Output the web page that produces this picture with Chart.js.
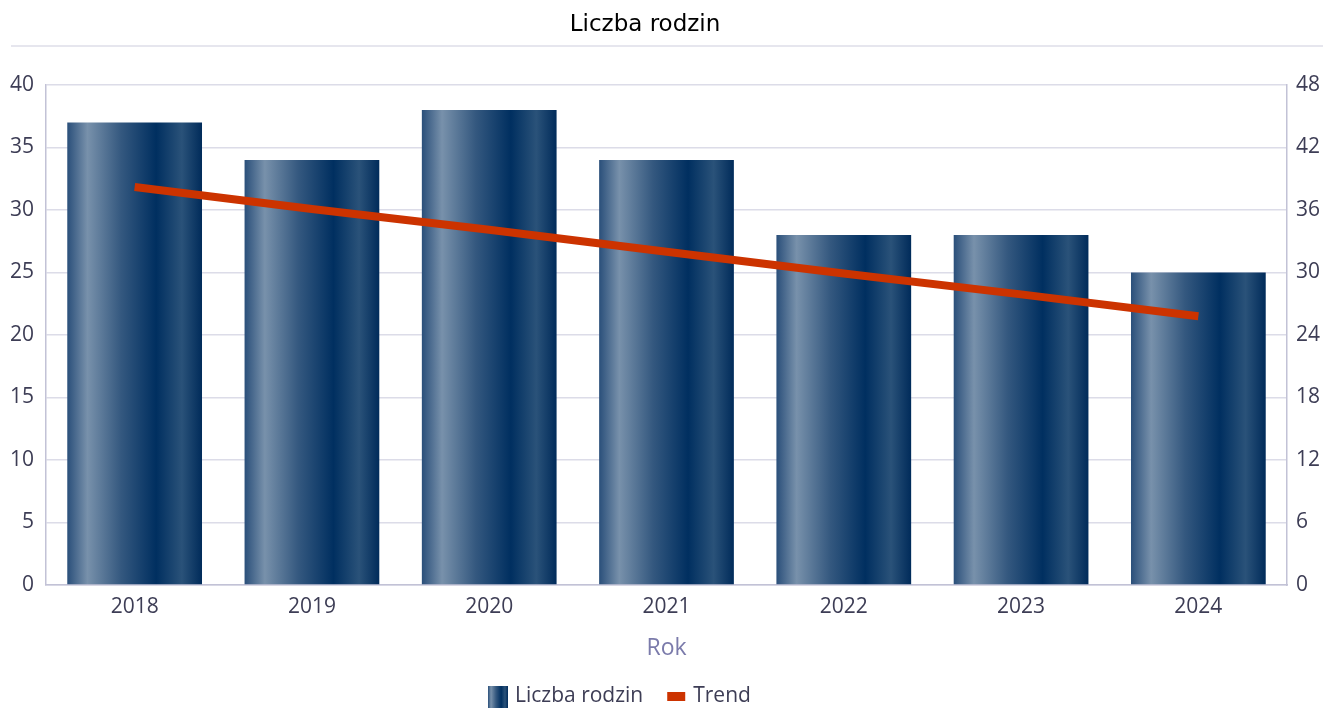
<!DOCTYPE html>
<html>
<head>
<meta charset="utf-8">
<script src="https://cdn.jsdelivr.net/npm/chart.js@4.4.1/dist/chart.umd.min.js"></script>
<style>
  html, body { margin: 0; padding: 0; background: #fff; }
  #wrap { width: 1335px; height: 708px; }
</style>
</head>
<body>
<div id="wrap"><canvas id="chart" width="1335" height="708"></canvas></div>
<script>
const years = ['2018', '2019', '2020', '2021', '2022', '2023', '2024'];
const families = [37, 34, 38, 34, 28, 28, 25];
const trend = [38.2, 36.1, 34.1, 32.0, 29.9, 27.9, 25.8];

const chartTitle = 'Liczba rodzin';
const xTitle = 'Rok';
const seriesNames = ['Liczba rodzin', 'Trend'];

const textColor = '#3d3d55';
const gridColor = '#dcdce8';
const borderColor = '#c2c2d6';
const trendColor = '#cc3300';

function barGradient(ctx, x0, x1) {
  const g = ctx.createLinearGradient(x0, 0, x1, 0);
  g.addColorStop(0, '#2a4f7a');
  g.addColorStop(0.15, '#7891ab');
  g.addColorStop(0.4, '#34587f');
  g.addColorStop(0.66, '#002f60');
  g.addColorStop(0.85, '#2a5279');
  g.addColorStop(1, '#002b5a');
  return g;
}

// gradient fill per bar, based on where each bar ended up
// (options objects are shared between bars, so each one gets its own copy)
const barShading = {
  id: 'barShading',
  beforeDatasetsDraw(chart) {
    const meta = chart.getDatasetMeta(1);
    meta.data.forEach(bar => {
      const half = bar.width / 2;
      if (!isFinite(half)) return;
      const opts = Object.assign({}, bar.options);
      opts.backgroundColor = barGradient(chart.ctx, bar.x - half, bar.x + half);
      bar.options = opts;
    });
  }
};

// title with the thin rule under it, and the legend at the bottom
const decorations = {
  id: 'decorations',
  afterDraw(chart) {
    const ctx = chart.ctx;
    const w = chart.width;
    ctx.save();
    ctx.fillStyle = '#000';
    ctx.font = '23px "DejaVu Sans"';
    ctx.textAlign = 'center';
    ctx.textBaseline = 'middle';
    ctx.fillText(chartTitle, 645, 25);

    ctx.strokeStyle = '#e6e6ee';
    ctx.lineWidth = 2;
    ctx.beginPath();
    ctx.moveTo(11, 46);
    ctx.lineTo(w - 12, 46);
    ctx.stroke();

    // legend
    ctx.font = '21px "Open Sans"';
    ctx.textAlign = 'left';
    const cy = 696;
    let x = 488;
    ctx.fillStyle = barGradient(ctx, x, x + 20);
    ctx.fillRect(x, 686, 20, 22);
    x += 27;
    ctx.fillStyle = textColor;
    ctx.fillText(seriesNames[0], x, cy);
    x += ctx.measureText(seriesNames[0]).width + 24;
    ctx.fillStyle = trendColor;
    ctx.fillRect(x, 692, 18, 9);
    x += 26;
    ctx.fillStyle = textColor;
    ctx.fillText(seriesNames[1], x, cy);
    ctx.restore();
  }
};

new Chart(document.getElementById('chart'), {
  type: 'bar',
  data: {
    labels: years,
    datasets: [
      {
        type: 'line',
        label: seriesNames[1],
        data: trend,
        yAxisID: 'y2',
        borderColor: trendColor,
        backgroundColor: trendColor,
        borderWidth: 8,
        borderCapStyle: 'butt',
        pointRadius: 0,
        tension: 0,
        order: 0
      },
      {
        label: seriesNames[0],
        data: families,
        yAxisID: 'y',
        backgroundColor: '#1f456f',
        barPercentage: 0.76,
        categoryPercentage: 1,
        order: 1
      }
    ]
  },
  options: {
    responsive: false,
    animation: false,
    layout: { padding: { top: 85, left: 0, right: 0, bottom: 0 } },
    plugins: {
      legend: { display: false },
      title: { display: false },
      tooltip: { enabled: false }
    },
    scales: {
      x: {
        grid: { display: false, drawTicks: false },
        border: { color: borderColor, width: 1.5 },
        ticks: { color: textColor, font: { family: 'Open Sans', size: 21 }, padding: 9 },
        title: {
          display: true,
          text: xTitle,
          color: '#7b7bab',
          font: { family: 'Open Sans', size: 23 },
          padding: { top: 0, bottom: 46 }
        },
        afterFit(scale) { scale.height = 123; }
      },
      y: {
        position: 'left',
        min: 0,
        max: 40,
        ticks: { stepSize: 5, color: textColor, font: { family: 'Open Sans', size: 21 }, padding: 12 },
        grid: { color: gridColor, lineWidth: 1.5, drawTicks: false },
        border: { color: borderColor, width: 1.5 },
        afterFit(scale) { scale.width = 46; }
      },
      y2: {
        position: 'right',
        min: 0,
        max: 48,
        ticks: { stepSize: 6, color: textColor, font: { family: 'Open Sans', size: 21 }, padding: 9 },
        grid: { display: false, drawTicks: false },
        border: { color: borderColor, width: 1.5 },
        afterFit(scale) { scale.width = 48; }
      }
    }
  },
  plugins: [barShading, decorations]
});
</script>
</body>
</html>
